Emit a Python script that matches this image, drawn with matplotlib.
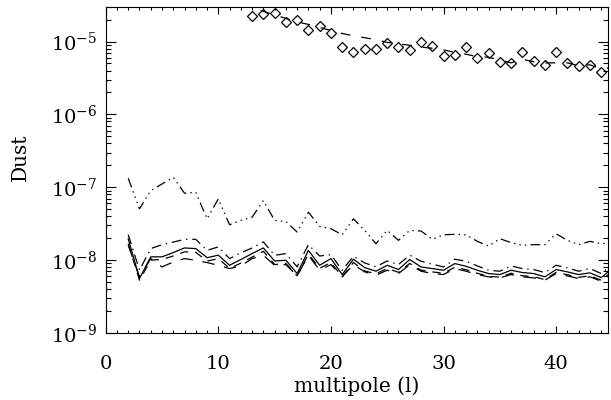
import numpy as np
import matplotlib
matplotlib.use("Agg")
import matplotlib.pyplot as plt
from matplotlib.ticker import LogLocator, FixedLocator, MultipleLocator, NullFormatter

plt.rcParams['font.family'] = ['DejaVu Serif']
plt.rcParams['mathtext.fontset'] = 'dejavuserif'
plt.rcParams['lines.scale_dashes'] = False

# ---------------- data ----------------
ell = list(range(2, 46))

dust_dash3dot = [1.33e-7, 5.06e-8, 9.0e-8, 1.11e-7, 1.37e-7, 8.28e-8, 8.55e-8, 3.69e-8,
                 6.93e-8, 3.06e-8, 3.51e-8, 3.89e-8, 6.57e-8, 3.51e-8, 3.40e-8, 2.43e-8,
                 4.55e-8, 2.90e-8, 2.70e-8, 2.23e-8, 3.69e-8, 2.56e-8, 1.68e-8, 2.56e-8,
                 1.87e-8, 2.56e-8, 2.51e-8, 1.93e-8, 2.23e-8, 2.26e-8, 2.23e-8, 1.81e-8,
                 1.56e-8, 1.97e-8, 1.74e-8, 1.60e-8, 1.63e-8, 1.63e-8, 2.30e-8, 1.87e-8,
                 1.63e-8, 1.81e-8, 1.68e-8, 1.77e-8]

dust_dashdot = [2.23e-8, 7.3e-9, 1.44e-8, 1.63e-8, 1.77e-8, 1.93e-8, 1.93e-8, 1.36e-8,
                1.52e-8, 1.05e-8, 1.26e-8, 1.47e-8, 1.78e-8, 1.165e-8, 1.23e-8, 8.1e-9,
                1.63e-8, 1.14e-8, 1.19e-8, 7.27e-9, 1.13e-8, 9.15e-9, 8.1e-9, 9.75e-9,
                8.7e-9, 1.17e-8, 9.65e-9, 8.8e-9, 8.07e-9, 1.03e-8, 9.65e-9, 8.33e-9,
                7.27e-9, 7.05e-9, 8.33e-9, 7.66e-9, 7.43e-9, 6.76e-9, 8.51e-9, 7.82e-9,
                7.05e-9, 7.66e-9, 6.55e-9, 8.69e-9]

dust_solid = [1.97e-8, 5.6e-9, 1.11e-8, 1.11e-8, 1.27e-8, 1.47e-8, 1.44e-8, 1.08e-8,
              1.17e-8, 8.5e-9, 1.02e-8, 1.23e-8, 1.47e-8, 9.75e-9, 9.96e-9, 6.55e-9,
              1.36e-8, 8.5e-9, 1.05e-8, 6.34e-9, 1.03e-8, 7.9e-9, 7.05e-9, 8.5e-9,
              7.43e-9, 1.02e-8, 8.07e-9, 7.66e-9, 7.27e-9, 8.97e-9, 8.24e-9, 7.27e-9,
              6.55e-9, 6.34e-9, 7.27e-9, 6.76e-9, 6.55e-9, 5.9e-9, 7.43e-9, 6.9e-9,
              6.34e-9, 6.69e-9, 5.77e-9, 7.66e-9]

dust_dashed = [1.68e-8, 5.3e-9, 1.0e-8, 1.02e-8, 1.14e-8, 1.30e-8, 1.28e-8, 9.7e-9,
               1.05e-8, 7.7e-9, 9.1e-9, 1.10e-8, 1.32e-8, 8.7e-9, 9.0e-9, 6.1e-9,
               1.21e-8, 7.7e-9, 9.3e-9, 5.9e-9, 9.3e-9, 7.1e-9, 6.5e-9, 7.7e-9,
               6.8e-9, 9.0e-9, 7.3e-9, 6.9e-9, 6.6e-9, 8.0e-9, 7.4e-9, 6.6e-9,
               6.0e-9, 5.85e-9, 6.6e-9, 6.1e-9, 5.95e-9, 5.4e-9, 6.8e-9, 6.3e-9,
               5.8e-9, 6.1e-9, 5.3e-9, 7.0e-9]

dust_longdash = [1.60e-8, 5.9e-9, 1.05e-8, 8.07e-9, 9.45e-9, 1.05e-8, 9.96e-9, 9.25e-9,
                 8.5e-9, 7.66e-9, 8.33e-9, 1.05e-8, 1.165e-8, 8.5e-9, 8.69e-9, 6.08e-9,
                 1.165e-8, 7.27e-9, 8.69e-9, 5.9e-9, 8.69e-9, 6.9e-9, 6.21e-9, 7.27e-9,
                 6.55e-9, 8.69e-9, 7.05e-9, 6.55e-9, 6.34e-9, 7.66e-9, 7.05e-9, 6.34e-9,
                 5.9e-9, 5.71e-9, 6.34e-9, 5.9e-9, 5.71e-9, 5.31e-9, 6.55e-9, 6.08e-9,
                 5.6e-9, 5.9e-9, 5.14e-9, 6.55e-9]

ell_diamond = list(range(13, 45))
dust_diamond = [2.26e-5, 2.37e-5, 2.49e-5, 1.87e-5, 1.98e-5, 1.45e-5, 1.64e-5, 1.30e-5,
                8.4e-6, 7.3e-6, 7.9e-6, 7.9e-6, 9.5e-6, 8.3e-6, 7.7e-6, 9.8e-6,
                8.7e-6, 6.4e-6, 6.6e-6, 8.3e-6, 6.0e-6, 6.9e-6, 5.3e-6, 5.1e-6,
                7.1e-6, 5.4e-6, 4.8e-6, 7.3e-6, 5.1e-6, 4.55e-6, 4.8e-6, 3.77e-6]

ell_fit = list(range(12, 46))
dust_fit = [3.27e-5, 2.93e-5, 2.59e-5, 2.32e-5, 2.08e-5, 1.86e-5, 1.72e-5, 1.56e-5,
            1.42e-5, 1.29e-5, 1.20e-5, 1.13e-5, 1.06e-5, 9.75e-6, 9.3e-6, 8.9e-6,
            8.4e-6, 8.1e-6, 7.7e-6, 7.1e-6, 6.7e-6, 6.2e-6, 6.1e-6, 5.6e-6,
            5.1e-6, 5.7e-6, 5.3e-6, 5.1e-6, 5.1e-6, 5.1e-6, 4.66e-6, 4.8e-6,
            4.2e-6, 4.45e-6]

x_ticks = [0, 10, 20, 30, 40]
y_ticks = [1e-9, 1e-8, 1e-7, 1e-6, 1e-5]

# ---------------- figure ----------------
fig = plt.figure(figsize=(6.11, 4.0), dpi=100)
ax = fig.add_axes([0.173, 0.1675, 0.822, 0.8155])

lw = 0.9
ax.plot(ell, dust_dash3dot, color='black', lw=lw,
        linestyle=(0, (7, 3, 1, 3, 1, 3, 1, 3)))
ax.plot(ell, dust_dashdot, color='black', lw=lw,
        linestyle=(0, (7, 3.5, 1, 3.5)))
ax.plot(ell, dust_solid, color='black', lw=lw, linestyle='-')
ax.plot(ell, dust_dashed, color='black', lw=lw, linestyle=(0, (6, 5)))
ax.plot(ell, dust_longdash, color='black', lw=lw, linestyle=(0, (9, 7)))

ax.plot(ell_fit, dust_fit, color='black', lw=lw, linestyle=(0, (7, 8)))
ax.plot(ell_diamond, dust_diamond, linestyle='none', marker='D', markersize=5,
        markerfacecolor='none', markeredgecolor='black', markeredgewidth=0.9)

ax.set_yscale('log')
ax.set_xlim(0, 44.6)
ax.set_ylim(1e-9, 3e-5)

ax.xaxis.set_major_locator(FixedLocator(x_ticks))
ax.xaxis.set_minor_locator(MultipleLocator(1))
ax.yaxis.set_major_locator(FixedLocator(y_ticks))
ax.yaxis.set_minor_locator(LogLocator(base=10, subs=np.arange(2, 10), numticks=20))
ax.yaxis.set_minor_formatter(NullFormatter())

ax.tick_params(which='both', direction='in', top=True, right=True, width=0.8)
ax.tick_params(axis='x', which='major', length=4.7, pad=16, labelsize=14)
ax.tick_params(axis='x', which='minor', length=2.4)
ax.tick_params(axis='y', which='major', length=7.2, pad=6, labelsize=14)
ax.tick_params(axis='y', which='minor', length=3.6)

for s in ax.spines.values():
    s.set_linewidth(0.8)

ax.set_xlabel('multipole (l)', fontsize=14.5, labelpad=2)
ax.set_ylabel('Dust', fontsize=14.5)
ax.yaxis.set_label_coords(-0.15, 0.54)

fig.savefig('out.png', dpi=100)
